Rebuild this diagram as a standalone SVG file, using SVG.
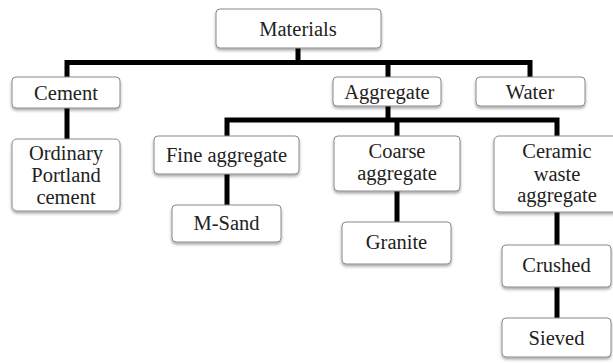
<svg xmlns="http://www.w3.org/2000/svg" width="613" height="363" viewBox="0 0 613 363">
<style>
.box{fill:#fff;stroke:#8a8a8a;stroke-width:1;filter:url(#sh)}
.t{font-size:20.5px;fill:#222;text-anchor:middle}
.c{fill:none;stroke:#000;stroke-width:5;stroke-linejoin:miter;stroke-linecap:butt}
</style>
<defs>
<filter id="sh" x="-20%" y="-20%" width="140%" height="150%">
<feDropShadow dx="0" dy="2" stdDeviation="1.5" flood-color="#000" flood-opacity="0.35"/>
</filter>
</defs>
<rect width="613" height="363" fill="#fff"/>
<g id="connectors">
<path class="c" d="M298 48V62.5M67 78V62.5H530V78M388 62.5V78"/>
<path class="c" d="M67 108V139"/>
<path class="c" d="M388 106V120M227 136V120H557V136M397 120V136"/>
<path class="c" d="M227 174V205"/>
<path class="c" d="M397 191V222"/>
<path class="c" d="M557 212V245"/>
<path class="c" d="M557 287V318"/>
</g>
<g font-family="Liberation Serif, Times New Roman, DejaVu Serif, serif">
<g id="materials"><rect class="box" x="216" y="9" width="165" height="39" rx="4"/><text class="t" x="298" y="35.5">Materials</text></g>
<g id="cement"><rect class="box" x="12" y="77" width="108" height="31" rx="4"/><text class="t" x="66" y="100">Cement</text></g>
<g id="aggregate"><rect class="box" x="333" y="77" width="108" height="29" rx="4"/><text class="t" x="387" y="98.5">Aggregate</text></g>
<g id="water"><rect class="box" x="476" y="77" width="109" height="29" rx="4"/><text class="t" x="530" y="98.5">Water</text></g>
<g id="opc"><rect class="box" x="12" y="139" width="108" height="72" rx="5"/><text class="t" x="66" y="160">Ordinary</text><text class="t" x="66" y="182">Portland</text><text class="t" x="66" y="203.5">cement</text></g>
<g id="fine"><rect class="box" x="154" y="136" width="145" height="38" rx="4"/><text class="t" x="226.5" y="162">Fine aggregate</text></g>
<g id="coarse"><rect class="box" x="334" y="136" width="126" height="55" rx="4"/><text class="t" x="397" y="158">Coarse</text><text class="t" x="397" y="180">aggregate</text></g>
<g id="ceramic"><rect class="box" x="494" y="136" width="126" height="76" rx="5"/><text class="t" x="557" y="158">Ceramic</text><text class="t" x="557" y="180.5">waste</text><text class="t" x="557" y="202">aggregate</text></g>
<g id="msand"><rect class="box" x="172" y="205" width="109" height="37" rx="4"/><text class="t" x="226.5" y="230">M-Sand</text></g>
<g id="granite"><rect class="box" x="342" y="222" width="109" height="42" rx="4"/><text class="t" x="396.5" y="249">Granite</text></g>
<g id="crushed"><rect class="box" x="502" y="245" width="109" height="42" rx="4"/><text class="t" x="556.5" y="272">Crushed</text></g>
<g id="sieved"><rect class="box" x="502" y="318" width="109" height="39" rx="4"/><text class="t" x="556.5" y="345">Sieved</text></g>
</g>
</svg>
